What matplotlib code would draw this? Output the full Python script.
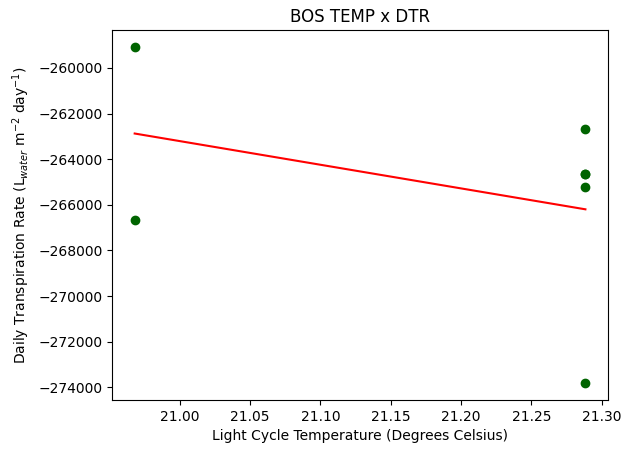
import numpy as np
import matplotlib
matplotlib.use('Agg')
import matplotlib.pyplot as plt

# Temperatura del ciclo de luz vs tasa diaria de transpiracion
temp = [20.968, 20.968, 21.2885, 21.2885, 21.2885, 21.2885, 21.2885]
dtr = [-259070, -266680, -262660, -264630, -264640, -265240, -273820]

# Ajuste lineal
m, b = np.polyfit(temp, dtr, 1)
x_fit = np.array([min(temp), max(temp)])

fig, ax = plt.subplots(figsize=(6.3, 4.53), dpi=100)
fig.subplots_adjust(left=0.178, right=0.965, bottom=0.117, top=0.934)

ax.scatter(temp, dtr, color='darkgreen')
ax.plot(x_fit, m * x_fit + b, color='red')
ax.set_title('BOS TEMP x DTR')
ax.set_xlabel('Light Cycle Temperature (Degrees Celsius)')
ax.set_ylabel('Daily Transpiration Rate (L$_{water}$ m$^{-2}$ day$^{-1}$)')

fig.savefig('out.png', dpi=100)
